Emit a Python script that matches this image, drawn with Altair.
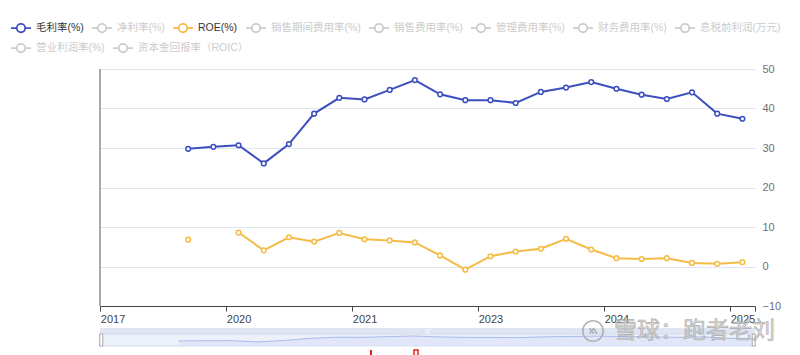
import json
import altair as alt
import pandas as pd

# ---------------- data ----------------
legend_names = ["毛利率(%)", "净利率(%)", "ROE(%)", "销售期间费用率(%)", "销售费用率(%)",
                "管理费用率(%)", "财务费用率(%)", "息税前利润(万元)", "营业利润率(%)", "资本金回报率（ROIC）"]
legend_colors = ["#3b4fbf", "#cccccc", "#f5bc45", "#cccccc", "#cccccc",
                 "#cccccc", "#cccccc", "#cccccc", "#cccccc", "#cccccc"]
active_series = ["毛利率(%)", "ROE(%)"]

period_index = list(range(26))
gross_margin = [None, None, None, 29.8, 30.3, 30.7, 26.1, 31.0, 38.7, 42.7, 42.3, 44.7, 47.2,
                43.6, 42.1, 42.1, 41.4, 44.2, 45.3, 46.7, 45.0, 43.5, 42.4, 44.1, 38.7, 37.4]
roe = [None, None, None, 6.8, None, 8.6, 4.1, 7.4, 6.3, 8.5, 6.9, 6.6, 6.1,
       2.8, -0.8, 2.6, 3.8, 4.5, 7.0, 4.3, 2.1, 1.9, 2.1, 0.9, 0.7, 1.1]

tick_positions = [0, 5, 10, 15, 20, 25]
tick_labels = ["2017", "2020", "2021", "2023", "2024", "2025"]
axis_end = 26
y_ticks = [-10, 0, 10, 20, 30, 40, 50]

watermark = "雪球：跑者老刘"

# ---------------- layout / style ----------------
W, H = 655, 237
FONT = "Liberation Sans, Noto Sans CJK SC, sans-serif"
CJK = "Noto Sans CJK SC"
ROW1 = 8  # legend entries that fit on the first row

rows = []
for i, g, r in zip(period_index, gross_margin, roe):
    rows.append({"idx": i, "series": legend_names[0], "value": g})
    rows.append({"idx": i, "series": legend_names[2], "value": r})
df = pd.DataFrame(rows)
shadow_df = pd.DataFrame({"idx": period_index, "value": gross_margin})
extra_df = pd.DataFrame({"name": legend_names[ROW1:]})
one = pd.DataFrame({"k": [0]})

x_scale = alt.Scale(domain=[0, axis_end], nice=False, zero=False)
y_scale = alt.Scale(domain=[y_ticks[0], y_ticks[-1]], nice=False, zero=False)
color_scale = alt.Scale(domain=legend_names[:ROW1], range=legend_colors[:ROW1])
extra_scale = alt.Scale(domain=legend_names[ROW1:], range=legend_colors[ROW1:])

label_expr = (f"datum.value < {axis_end} ? "
              f"{json.dumps(tick_labels)}[indexof({json.dumps(tick_positions)}, datum.value)] : ''")
x_axis = alt.Axis(values=tick_positions + [axis_end], labelExpr=label_expr, title=None, grid=False,
                  domainColor="#444444", tickColor="#444444", tickSize=5, labelColor="#444444",
                  labelFontSize=11, labelFont=FONT, labelPadding=2, labelOffset=W / axis_end / 2,
                  labelFlush=False, labelOverlap=False, labelAlign="center", labelBaseline="top")
y_axis = alt.Axis(orient="right", values=y_ticks, title=None, grid=True, gridColor="#e0e6f1",
                  domain=False, ticks=False, tickSize=0, labelPadding=7, labelColor="#6e7079",
                  labelFontSize=11, labelFont=FONT, labelAlign="left", labelBaseline="middle")

SYMBOL = "M-1,0L-0.42,0M0.42,0L1,0M0.42,0A0.42,0.42,0,1,1,-0.42,0A0.42,0.42,0,1,1,0.42,0Z"
active_expr = (f"datum && indexof({json.dumps(active_series, ensure_ascii=False)}, datum.value) >= 0"
               f" ? '#333333' : '#cccccc'")


def make_legend(y, label_color):
    return alt.Legend(title=None, orient="none", legendX=-90, legendY=y, direction="horizontal",
                      symbolType=SYMBOL, symbolSize=400, symbolStrokeWidth=1.8,
                      symbolFillColor="#ffffff", symbolOpacity=1, labelFontSize=10.5, labelFont=FONT,
                      labelColor=label_color, labelOffset=4, columnPadding=4, labelLimit=0)


legend1 = make_legend(-52, alt.ExprRef(expr=active_expr))
legend2 = make_legend(-32, "#cccccc")

base = alt.Chart(df).transform_calculate(pos="datum.idx + 0.5")
x_enc = alt.X("pos:Q", scale=x_scale, axis=x_axis)
y_enc = alt.Y("value:Q", scale=y_scale, axis=y_axis)
c_enc = alt.Color("series:N", scale=color_scale, legend=legend1)

left_line = alt.Chart(one).mark_rule(color="#aaaaaa", strokeWidth=2).encode(
    x=alt.value(0), y=alt.value(0), y2=alt.value(H))

lines = base.mark_line(strokeWidth=2, invalid="break-paths-show-domains").encode(
    x=x_enc, y=y_enc, color=c_enc)

valid = base.transform_filter("isValid(datum.value)")
points_bg = valid.mark_point(shape="circle", size=22, filled=True, color="#ffffff", opacity=1).encode(
    x=x_enc, y=y_enc)
points = valid.mark_point(shape="circle", size=22, strokeWidth=1.5, filled=False, opacity=1).encode(
    x=x_enc, y=y_enc, color=c_enc)

extra_legend = alt.Chart(extra_df).transform_filter("false").mark_point(
    filled=False, strokeWidth=1.8, opacity=1).encode(
    stroke=alt.Stroke("name:N", scale=extra_scale, legend=legend2))

main = alt.layer(left_line, lines, points_bg, points, extra_legend)

# ---------------- data-zoom slider ----------------
sx0 = alt.X(datum=0, type="quantitative", scale=x_scale, axis=x_axis)
sx1 = alt.X2(datum=axis_end)
slider_top = alt.Chart(one).mark_rect(fill="#dfe5f2").encode(
    x=sx0, x2=sx1, y=alt.value(H + 22), y2=alt.value(H + 28))
slider_bg = alt.Chart(one).mark_rect(fill="#edf1fa", stroke="#d2dbee", strokeWidth=1).encode(
    x=sx0, x2=sx1, y=alt.value(H + 28), y2=alt.value(H + 40))
shadow_scale = alt.Scale(domain=[12, 54], range=[H + 40, H + 28], nice=False, zero=False)
shadow = alt.Chart(shadow_df).transform_filter("isValid(datum.value)").transform_calculate(
    spos=f"datum.idx * {axis_end} / {len(period_index) - 1}"
).mark_area(fill="#dbe3f6", line={"color": "#a9bbeb", "strokeWidth": 1}).encode(
    x=alt.X("spos:Q", scale=x_scale, axis=x_axis),
    y=alt.Y("value:Q", scale=shadow_scale, axis=None),
    y2=alt.Y2(datum=12))
HANDLE = "M-0.25,-1L0.25,-1L0.25,1L-0.25,1Z"
handles = alt.Chart(pd.DataFrame({"h": [0.05, axis_end - 0.05]})).mark_point(
    shape=HANDLE, size=144, filled=True, fill="#ffffff", stroke="#aaaaaa", strokeWidth=1, opacity=1
).encode(x=alt.X("h:Q", scale=x_scale, axis=x_axis), y=alt.value(H + 34))
grip = alt.Chart(one).mark_text(text="|||", fontSize=6, color="#ffffff").encode(
    x=alt.X(datum=axis_end / 2, type="quantitative", scale=x_scale, axis=x_axis), y=alt.value(H + 25))
slider = alt.layer(slider_top, slider_bg, shadow, handles, grip)

# ---------------- overlays ----------------
wm_text = alt.Chart(one).mark_text(
    text=watermark, font=CJK, fontSize=23, fill="#d2d2d2", stroke="#a0a0a0", strokeWidth=0.6,
    opacity=0.85, align="right", baseline="middle").encode(x=alt.value(W + 20), y=alt.value(H + 25))
LOGO = "M-0.45,-0.35L0.1,0.35M0.1,-0.35L-0.45,0.35M0.05,-0.35L0.5,0.35"
wm_ring = alt.Chart(one).mark_point(shape="circle", size=420, filled=False, stroke="#a8a8a8",
                                    strokeWidth=1.6, opacity=0.85).encode(
    x=alt.value(W - 162), y=alt.value(H + 25))
wm_mark = alt.Chart(one).mark_point(shape=LOGO, size=260, filled=False, stroke="#a8a8a8",
                                    strokeWidth=1.6, opacity=0.85).encode(
    x=alt.value(W - 162), y=alt.value(H + 25))
red1 = alt.Chart(one).mark_rule(color="#e02020", strokeWidth=2).encode(
    x=alt.value(271), y=alt.value(H + 44), y2=alt.value(H + 49))
red2 = alt.Chart(one).mark_rect(fill="#ffffff", stroke="#e02020", strokeWidth=1.5).encode(
    x=alt.value(314), x2=alt.value(318), y=alt.value(H + 44), y2=alt.value(H + 50))
overlay = alt.layer(wm_ring, wm_mark, wm_text, red1, red2)

chart = alt.layer(main, slider, overlay).resolve_scale(y="independent").properties(
    width=W, height=H, autosize=alt.AutoSizeParams(type="none"),
    padding={"left": 100, "top": 69, "right": 45, "bottom": 49},
    background="#ffffff"
).configure_view(stroke=None)

chart.save("out.html", embed_options={"renderer": "svg", "actions": False})
